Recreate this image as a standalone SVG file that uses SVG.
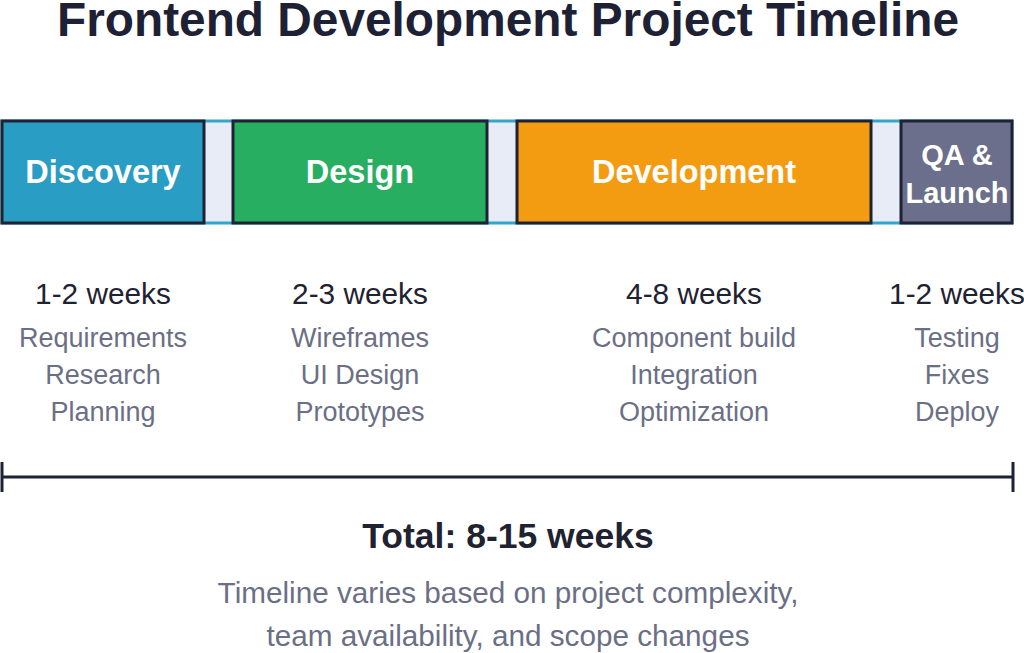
<svg xmlns="http://www.w3.org/2000/svg" width="1024" height="653" viewBox="0 0 1024 653">
<style>
text{font-family:"Liberation Sans",Arial,Helvetica,sans-serif;text-anchor:middle}
.title{font-size:47.8px;font-weight:bold;fill:#1e2133}
.phase{font-size:32.5px;font-weight:bold;fill:#ffffff}
.qa{font-size:29px;font-weight:bold;fill:#ffffff}
.seg{stroke:#1e2235;stroke-width:3}
.wk{font-size:29.8px;fill:#1f2230}
.sub{font-size:27px;fill:#6b6f85}
.total{font-size:35.5px;font-weight:bold;fill:#1f2230}
.foot{font-size:29.7px;fill:#6b6f85}
</style>
<rect width="1024" height="653" fill="#ffffff"/>
<text class="title" x="508" y="36">Frontend Development Project Timeline</text>
<rect id="track" x="2" y="121" width="1010" height="102" fill="#e8ecf7" stroke="#35a6cb" stroke-width="3"/>
<g id="discovery">
<rect class="seg" x="2" y="121" width="202" height="102" fill="#2a9dc4"/>
<text class="phase" x="103" y="183">Discovery</text>
<text class="wk" x="103" y="304">1-2 weeks</text>
<text class="sub" x="103" y="347">Requirements</text>
<text class="sub" x="103" y="384">Research</text>
<text class="sub" x="103" y="421">Planning</text>
</g>
<g id="design">
<rect class="seg" x="233" y="121" width="254" height="102" fill="#27ae60"/>
<text class="phase" x="360" y="183">Design</text>
<text class="wk" x="360" y="304">2-3 weeks</text>
<text class="sub" x="360" y="347">Wireframes</text>
<text class="sub" x="360" y="384">UI Design</text>
<text class="sub" x="360" y="421">Prototypes</text>
</g>
<g id="development">
<rect class="seg" x="517" y="121" width="354" height="102" fill="#f39c12"/>
<text class="phase" x="694" y="183">Development</text>
<text class="wk" x="694" y="304">4-8 weeks</text>
<text class="sub" x="694" y="347">Component build</text>
<text class="sub" x="694" y="384">Integration</text>
<text class="sub" x="694" y="421">Optimization</text>
</g>
<g id="qa-launch">
<rect class="seg" x="901" y="121" width="111" height="102" fill="#6b6f8b"/>
<text class="qa" x="957" y="165">QA &amp;</text>
<text class="qa" x="957" y="203">Launch</text>
<text class="wk" x="957" y="304">1-2 weeks</text>
<text class="sub" x="957" y="347">Testing</text>
<text class="sub" x="957" y="384">Fixes</text>
<text class="sub" x="957" y="421">Deploy</text>
</g>
<g id="connectors" stroke="#1e2235" stroke-width="3" fill="none">
<line x1="2" y1="477" x2="1013" y2="477"/>
<line x1="2" y1="462" x2="2" y2="492"/>
<line x1="1013" y1="462" x2="1013" y2="492"/>
</g>
<g id="summary">
<text class="total" x="508" y="548">Total: 8-15 weeks</text>
<text class="foot" x="508" y="603">Timeline varies based on project complexity,</text>
<text class="foot" x="508" y="646">team availability, and scope changes</text>
</g>
</svg>
